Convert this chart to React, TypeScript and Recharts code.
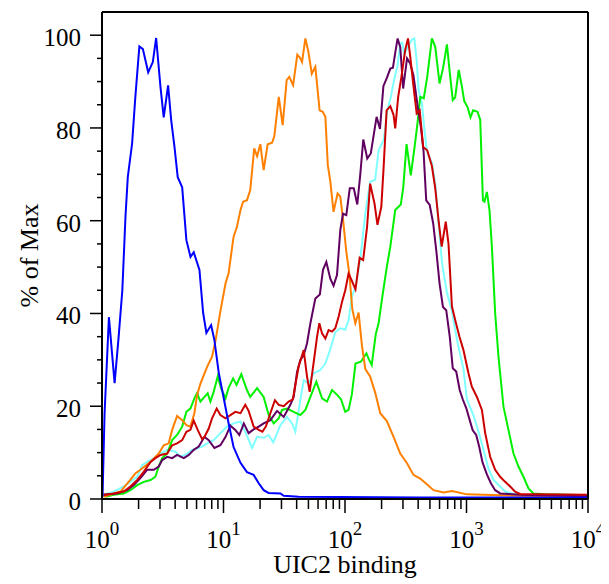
import { LineChart, Line, XAxis, YAxis, ReferenceLine } from "recharts";

const FONT = "'Liberation Serif', 'Times New Roman', Times, serif";

// tick values (log axis: 1..9 per decade)
const X_TICKS = [
  1, 2, 3, 4, 5, 6, 7, 8, 9,
  10, 20, 30, 40, 50, 60, 70, 80, 90,
  100, 200, 300, 400, 500, 600, 700, 800, 900,
  1000, 2000, 3000, 4000, 5000, 6000, 7000, 8000, 9000,
  10000,
];
const Y_TICKS = [0, 5, 10, 15, 20, 25, 30, 35, 40, 45, 50, 55, 60, 65, 70, 75, 80, 85, 90, 95, 100];

// [UIC2 binding, % of Max]
const BLUE: [number, number][] = [
  [1.01, 0.5], [1.05, 18.5], [1.14, 39.2], [1.27, 25.0], [1.37, 34.9], [1.47, 45.0], [1.56, 60.8],
  [1.63, 69.4], [1.77, 76.7], [1.88, 86.6], [2.03, 97.6], [2.17, 97.0], [2.4, 92.0], [2.62, 94.2],
  [2.79, 99.4], [3.03, 88.8], [3.22, 82.3], [3.5, 89.2], [3.71, 81.7], [3.95, 75.9], [4.2, 69.4],
  [4.57, 67.2], [4.95, 55.8], [5.35, 52.2], [5.69, 53.2], [6.34, 49.4], [6.8, 40.1], [7.23, 35.8],
  [7.91, 37.5], [8.41, 34.3], [9.14, 27.2], [10.0, 22.0], [11.0, 16.4], [12.1, 11.2], [13.8, 7.8],
  [15.6, 5.8], [17.7, 5.2], [19.5, 3.4], [21.4, 1.9], [23.5, 1.3], [29.4, 1.2], [31.3, 0.7],
  [41.5, 0.5], [400, 0.3], [9800, 0.3],
];

const ORANGE: [number, number][] = [
  [1.03, 0.5], [1.42, 1.6], [1.71, 4.1], [1.88, 5.5], [2.07, 6.3], [2.51, 8.0], [2.93, 9.8],
  [3.22, 11.6], [3.54, 12.0], [3.78, 14.9], [4.15, 17.9], [4.57, 17.0], [4.95, 15.9], [5.34, 15.6],
  [5.76, 18.5], [6.06, 22.4], [6.46, 24.9], [7.33, 28.5], [8.05, 30.7], [8.58, 34.0], [9.43, 40.5],
  [10.4, 46.5], [11.0, 48.6], [12.1, 56.5], [12.9, 58.7], [13.8, 62.3], [14.5, 64.1], [15.6, 64.4],
  [16.6, 66.6], [17.9, 75.6], [18.9, 73.9], [20.1, 76.5], [21.4, 70.9], [23.1, 76.5], [25.1, 76.8],
  [26.2, 78.2], [28.5, 86.7], [30.7, 80.6], [33.1, 90.3], [34.8, 91.0], [37.4, 89.2], [40.5, 95.8],
  [42.9, 95.0], [44.3, 94.2], [47.2, 99.3], [49.9, 96.5], [53.3, 91.7], [57.0, 93.2], [61.8, 83.8],
  [65.6, 83.5], [68.9, 82.4], [72.2, 72.0], [75.7, 68.5], [80.5, 61.9], [86.9, 65.9], [91.5, 65.2],
  [96.8, 59.8], [102.5, 53.3], [108.5, 48.6], [114.8, 41.0], [121.6, 37.9], [129.4, 40.2], [138, 33.0],
  [147, 28.0], [161, 26.4], [177, 23.0], [195, 18.5], [221, 16.8], [251, 13.4], [285, 9.8],
  [324, 7.7], [366, 5.2], [416, 4.4], [472, 3.2], [535, 1.9], [647, 1.4], [759, 1.7], [1007, 1.0],
  [1893, 0.8], [9800, 0.5],
];

const GREEN: [number, number][] = [
  [1.07, 0.5], [1.25, 0.9], [1.51, 1.2], [1.71, 1.9], [1.95, 3.0], [2.21, 3.7], [2.51, 4.1],
  [2.75, 4.8], [2.93, 7.0], [3.13, 8.8], [3.44, 9.8], [3.78, 12.7], [4.15, 13.8], [4.57, 15.6],
  [4.95, 18.8], [5.34, 19.5], [5.76, 21.7], [6.06, 22.8], [6.46, 21.0], [6.97, 22.0], [7.41, 22.8],
  [7.8, 21.0], [8.3, 23.1], [8.96, 26.4], [9.55, 23.9], [10.4, 21.7], [11.0, 23.9], [12.0, 26.0],
  [12.8, 24.6], [14.0, 26.9], [15.6, 23.5], [16.6, 22.0], [18.9, 23.9], [21.4, 22.0], [23.5, 18.2],
  [25.9, 16.3], [28.5, 17.4], [30.3, 19.2], [33.3, 19.5], [37.8, 18.8], [42.9, 18.1], [47.2, 19.2],
  [51.9, 22.0], [58.1, 25.3], [64.7, 21.7], [71.1, 21.0], [78.2, 23.5], [86.5, 22.4], [92.7, 21.5],
  [100.5, 18.8], [107, 19.2], [114, 22.6], [122, 29.2], [135, 29.6], [150, 31.4], [158, 30.0],
  [166, 28.9], [179, 35.5], [189, 37.9], [201, 42.9], [221, 50.1], [236, 54.4], [259, 62.3],
  [288, 63.5], [302, 67.3], [321, 76.5], [348, 69.8], [374, 75.9], [395, 81.0], [416, 86.7],
  [445, 86.4], [475, 91.0], [519, 99.3], [553, 97.5], [600, 89.6], [640, 92.8], [690, 98.0],
  [728, 92.0], [771, 86.0], [807, 86.6], [863, 92.5], [917, 88.9], [958, 85.8], [1019, 84.5],
  [1079, 82.3], [1135, 83.8], [1231, 83.5], [1297, 81.8], [1365, 64.4], [1406, 64.1], [1472, 66.2],
  [1546, 62.3], [1618, 54.4], [1722, 40.0], [1833, 30.7], [2015, 19.9], [2215, 14.9], [2437, 9.8],
  [2677, 7.0], [2943, 4.8], [3235, 2.3], [3556, 1.2], [4436, 1.0], [9800, 0.8],
];

const PURPLE: [number, number][] = [
  [1.03, 0.9], [1.33, 1.2], [1.61, 1.9], [1.83, 3.0], [2.07, 4.5], [2.35, 6.3], [2.67, 6.3],
  [2.93, 7.0], [3.13, 8.4], [3.44, 9.1], [3.78, 8.8], [4.15, 9.5], [4.71, 8.8], [5.18, 9.5],
  [5.69, 10.6], [6.25, 11.3], [6.97, 13.4], [7.56, 12.7], [8.42, 11.0], [9.43, 11.6], [10.4, 13.4],
  [11.4, 15.8], [12.5, 14.9], [13.5, 13.8], [14.7, 16.3], [16.1, 14.2], [17.7, 15.0], [19.5, 15.6],
  [21.4, 16.3], [24.3, 17.0], [27.6, 19.0], [31.3, 17.7], [35.5, 20.3], [37.8, 22.0], [40.3, 27.4],
  [42.9, 30.0], [45.7, 31.0], [48.7, 33.6], [51.9, 37.9], [57.0, 43.2], [62.1, 44.1], [65.9, 49.4],
  [70.2, 51.1], [75.7, 47.5], [80.5, 46.0], [85.9, 48.3], [91.5, 58.0], [96.3, 61.5], [102.5, 61.2],
  [109.5, 67.0], [118.1, 67.0], [126.2, 63.5], [133.6, 70.0], [141.4, 77.5], [152.5, 73.4],
  [163, 74.5], [182, 82.4], [194, 79.8], [207, 89.0], [221, 90.8], [236, 92.8], [248, 93.0],
  [259, 96.2], [271, 99.3], [285, 97.4], [301, 88.5], [324, 95.0], [344, 93.9], [366, 91.3],
  [397, 84.5], [422, 80.0], [443, 75.0], [466, 64.4], [498, 63.4], [532, 59.4], [566, 53.2],
  [600, 46.5], [640, 41.4], [681, 40.7], [728, 35.0], [771, 28.2], [823, 27.5], [879, 23.5],
  [931, 21.5], [995, 19.6], [1063, 17.0], [1125, 14.8], [1202, 13.8], [1271, 11.3], [1355, 7.9],
  [1472, 5.3], [1588, 3.4], [1722, 1.9], [1893, 1.2], [2215, 1.1], [2765, 0.9], [9800, 0.6],
];

const RED: [number, number][] = [
  [1.03, 0.9], [1.25, 1.2], [1.51, 1.6], [1.71, 2.7], [1.95, 4.1], [2.21, 5.9], [2.51, 8.0],
  [2.75, 8.8], [3.03, 9.5], [3.44, 9.8], [3.78, 11.6], [4.15, 12.0], [4.57, 12.7], [4.95, 14.5],
  [5.34, 14.9], [5.69, 16.9], [6.13, 14.9], [6.67, 12.9], [6.97, 13.4], [7.56, 15.2], [8.05, 17.4],
  [8.79, 19.5], [9.43, 18.1], [10.4, 17.4], [11.4, 18.1], [12.5, 18.8], [13.8, 18.5], [15.1, 20.3],
  [16.1, 19.0], [17.7, 15.6], [19.5, 14.9], [20.9, 14.5], [22.3, 15.6], [24.3, 18.5], [26.5, 21.3],
  [28.5, 20.3], [31.3, 20.0], [34.4, 21.0], [37.2, 21.5], [41.5, 28.5], [45.7, 32.1], [48.7, 26.4],
  [51.2, 23.1], [54.6, 28.5], [58.9, 35.0], [61.5, 37.9], [64.7, 35.7], [68.9, 34.6], [73.3, 36.4],
  [78.2, 36.1], [83.2, 36.8], [88.6, 39.3], [94.5, 42.5], [100.5, 45.0], [107, 48.6], [114, 47.0],
  [122, 45.2], [132, 52.0], [141, 51.5], [152, 58.7], [161, 68.0], [175, 63.7], [185, 59.1],
  [199, 63.0], [208, 71.6], [220, 83.8], [236, 84.7], [251, 82.8], [259, 79.9], [274, 86.7],
  [290, 90.7], [313, 96.8], [330, 99.3], [344, 95.5], [365, 89.3], [389, 83.1], [412, 83.8],
  [440, 75.9], [475, 75.2], [519, 71.8], [553, 67.0], [589, 60.0], [625, 54.4], [675, 59.8],
  [711, 55.0], [759, 41.5], [807, 38.6], [875, 35.0], [944, 32.1], [1038, 27.1], [1107, 24.2],
  [1218, 22.0], [1339, 19.2], [1425, 14.2], [1566, 9.1], [1722, 6.3], [1893, 4.8], [2081, 3.7],
  [2288, 2.7], [2515, 1.6], [2765, 1.1], [9800, 0.9],
];

const CYAN: [number, number][] = [
  [1.03, 0.9], [1.25, 1.6], [1.51, 2.7], [1.71, 3.7], [1.95, 4.8], [2.14, 7.3], [2.35, 8.0],
  [2.67, 8.8], [3.03, 9.8], [3.44, 10.6], [4.02, 10.2], [4.42, 9.1], [5.02, 9.8], [5.52, 10.6],
  [6.06, 10.9], [6.67, 11.3], [7.33, 12.0], [8.3, 12.7], [9.43, 14.2], [10.7, 15.6], [12.1, 16.3],
  [13.8, 16.7], [15.1, 14.5], [17.2, 11.0], [18.9, 13.4], [21.4, 13.2], [23.5, 13.8], [25.7, 12.2],
  [29.4, 15.9], [33.3, 17.7], [36.7, 16.3], [39.0, 14.5], [42.9, 21.3], [45.7, 25.6], [50.2, 24.9],
  [55.2, 27.1], [62.6, 27.8], [68.9, 29.2], [75.7, 32.3], [83.2, 36.0], [91.5, 36.8], [100.5, 36.5],
  [107, 38.6], [114, 43.6], [122, 45.8], [134, 52.0], [147, 61.6], [161, 68.4], [177, 68.8],
  [189, 75.2], [208, 77.4], [223, 83.8], [238, 86.6], [254, 90.5], [271, 93.5], [285, 98.2],
  [296, 98.4], [307, 95.9], [332, 97.6], [354, 99.0], [372, 99.3], [389, 94.5], [404, 88.0],
  [430, 85.3], [445, 81.0], [472, 75.0], [519, 72.5], [553, 68.0], [589, 59.5], [628, 51.0],
  [690, 44.5], [759, 40.5], [807, 36.4], [859, 32.8], [944, 28.0], [1007, 21.5], [1142, 18.0],
  [1256, 14.5], [1380, 10.6], [1517, 6.5], [1668, 4.1], [1893, 2.7], [2081, 1.6], [2361, 1.2],
  [2765, 0.9], [9800, 0.6],
];

const SERIES = [
  { name: "cyan", points: CYAN, color: "#80ffff" },
  { name: "green", points: GREEN, color: "#00f000" },
  { name: "orange", points: ORANGE, color: "#ff8000" },
  { name: "purple", points: PURPLE, color: "#600060" },
  { name: "red", points: RED, color: "#cc0000" },
  { name: "blue", points: BLUE, color: "#0000ff" },
];

const textStyle = { fontFamily: FONT };

function XTick({ x, y, payload }: any) {
  const exp = Math.log10(payload.value);
  const major = Math.abs(exp - Math.round(exp)) < 1e-6;
  return (
    <g>
      <line x1={x} x2={x} y1={y} y2={y + (major ? 14 : 10)} stroke="#000" strokeWidth={1.5} />
      {major && (
        <text x={x} y={y + 49} textAnchor="middle" style={textStyle} fontSize={25} fill="#000">
          <tspan>10</tspan>
          <tspan dy={-13} fontSize={19}>
            {Math.round(exp)}
          </tspan>
        </text>
      )}
    </g>
  );
}

function YTick({ x, y, payload }: any) {
  const v = payload.value;
  const major = v % 20 === 0;
  return (
    <g>
      <line x1={x - (major ? 12 : 5)} x2={x} y1={y} y2={y} stroke="#000" strokeWidth={1.5} />
      {major && (
        <text x={x - 21} y={y + 11} textAnchor="end" style={textStyle} fontSize={25} fill="#000">
          {v}
        </text>
      )}
    </g>
  );
}

export default function App() {
  return (
    <div style={{ width: 601, height: 576, fontFamily: FONT }}>
      <LineChart width={601} height={576} margin={{ top: 4, right: 21, bottom: 0, left: 0 }}>
        <XAxis
          type="number"
          dataKey="x"
          scale="log"
          domain={[1, 10000]}
          allowDataOverflow
          ticks={X_TICKS}
          interval={0}
          tick={<XTick />}
          tickLine={false}
          tickSize={0}
          tickMargin={0}
          height={85}
          axisLine={{ stroke: "#000", strokeWidth: 2 }}
          label={{
            content: (p: any) => {
              const vb = p.viewBox || { x: 94, y: 491, width: 486 };
              return (
                <text
                  x={vb.x + vb.width / 2}
                  y={vb.y + 74}
                  textAnchor="middle"
                  style={textStyle}
                  fontSize={26}
                  fill="#000"
                >
                  UIC2 binding
                </text>
              );
            },
          }}
        />
        <YAxis
          type="number"
          dataKey="y"
          domain={[0, 105]}
          allowDataOverflow
          ticks={Y_TICKS}
          interval={0}
          tick={<YTick />}
          tickLine={false}
          tickSize={0}
          tickMargin={0}
          width={94}
          axisLine={{ stroke: "#000", strokeWidth: 2 }}
          label={{
            content: (p: any) => {
              const vb = p.viewBox || { x: 0, y: 4, height: 487 };
              const cx = vb.x + 30;
              const cy = vb.y + vb.height / 2;
              return (
                <text
                  x={cx}
                  y={cy}
                  transform={`rotate(-90, ${cx}, ${cy})`}
                  textAnchor="middle"
                  style={textStyle}
                  fontSize={26}
                  fill="#000"
                >
                  % of Max
                </text>
              );
            },
          }}
        />
        <ReferenceLine y={105} stroke="#000" strokeWidth={2} />
        <ReferenceLine x={10000} stroke="#000" strokeWidth={2} />
        {SERIES.map((s) => (
          <Line
            key={s.name}
            data={s.points.map(([x, y]) => ({ x, y }))}
            dataKey="y"
            type="linear"
            stroke={s.color}
            strokeWidth={2}
            dot={false}
            activeDot={false}
            isAnimationActive={false}
          />
        ))}
      </LineChart>
    </div>
  );
}
